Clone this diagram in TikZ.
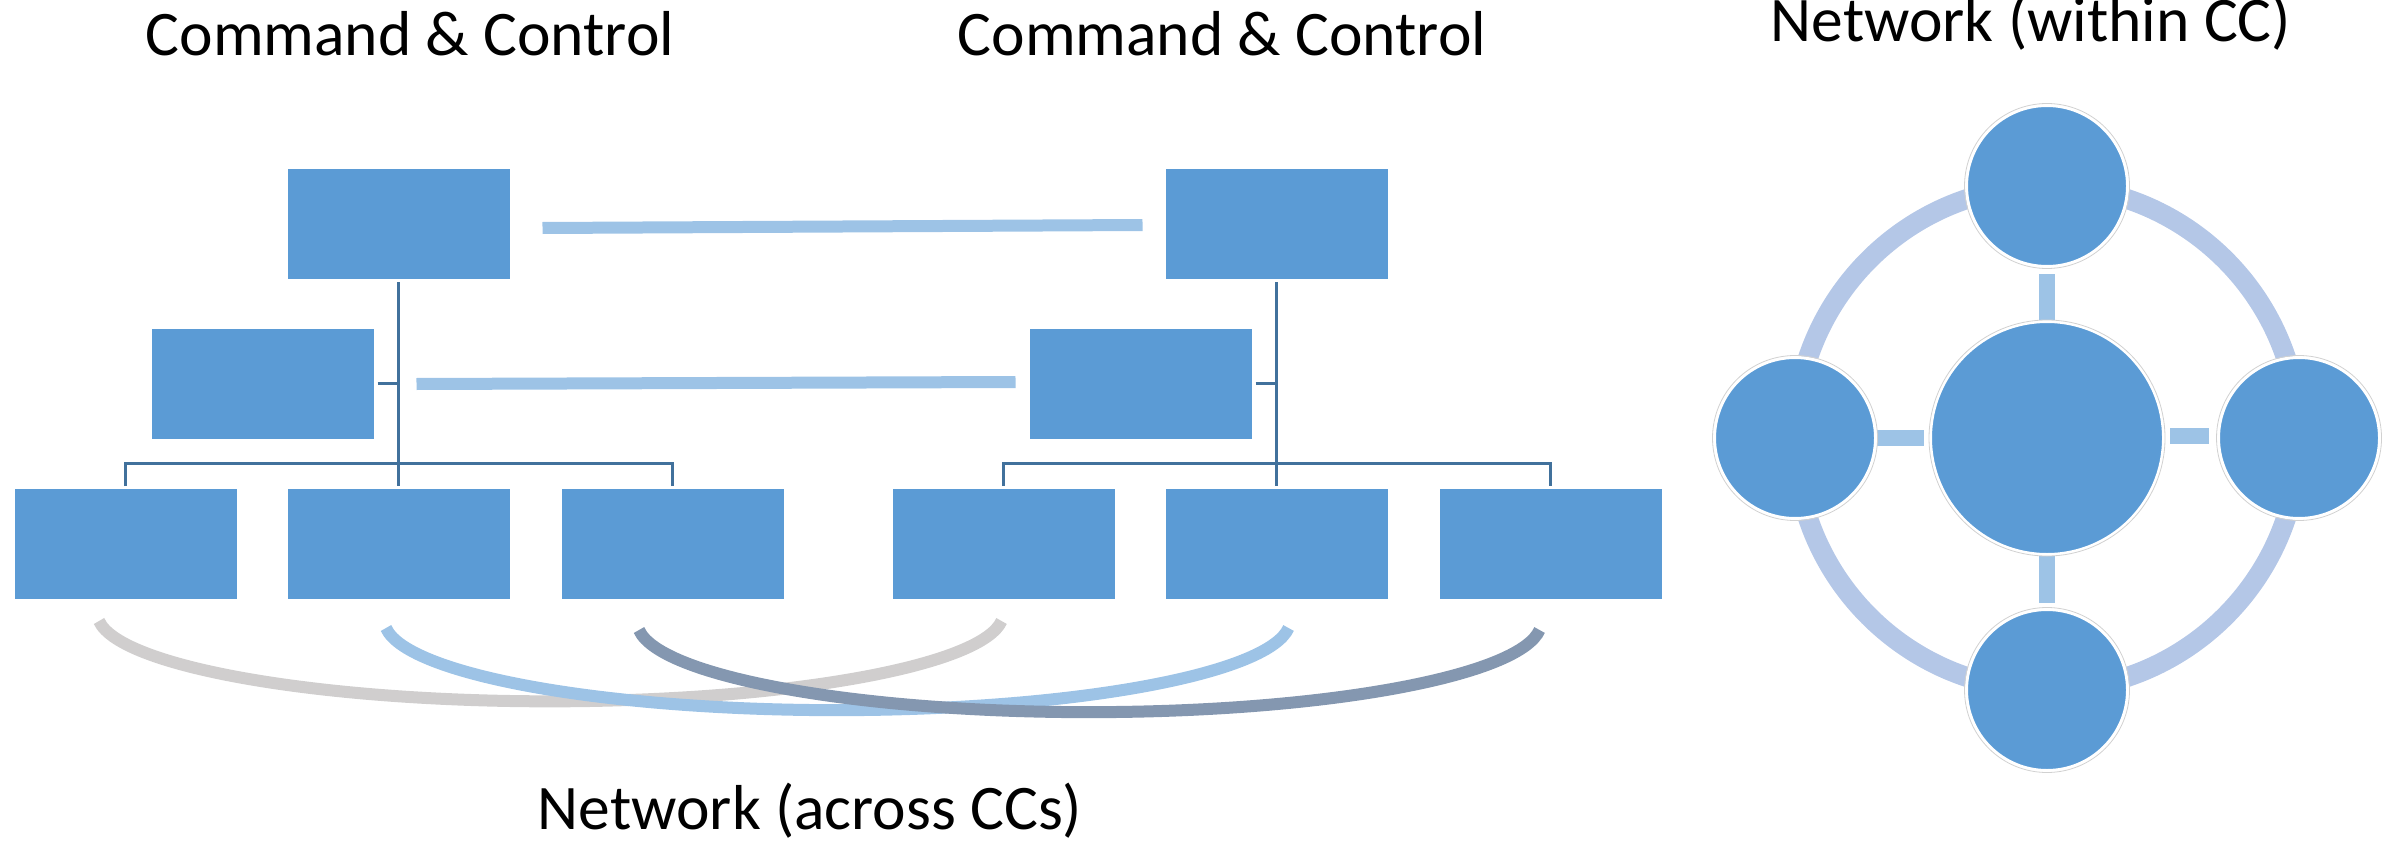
\documentclass[tikz,border=0pt]{standalone}
\usepackage{fontspec}
\setmainfont{Carlito}
\usetikzlibrary{backgrounds}

\definecolor{boxblue}{HTML}{5B9BD5}
\definecolor{treeblue}{HTML}{41719C}
\definecolor{linkblue}{HTML}{9DC3E6}
\definecolor{ringblue}{HTML}{B4C7E7}
\definecolor{arcgrey}{HTML}{D0CECE}
\definecolor{arcslate}{HTML}{8497B0}

\begin{document}
\begin{tikzpicture}[x=1pt,y=-1pt,
  cbox/.style={rectangle, fill=boxblue, draw=white, line width=1pt,
               minimum width=223pt, minimum height=111pt, inner sep=0pt},
  tree/.style={draw=treeblue, line width=3pt},
  link/.style={draw=linkblue, line width=12pt},
  arcline/.style={line width=12pt},
  spoke/.style={draw=linkblue, line width=16pt},
  ringline/.style={draw=ringblue, line width=20pt},
  title/.style={font=\fontsize{63.5}{76}\selectfont, anchor=base, inner sep=0pt},
  sat/.style={circle, fill=boxblue, draw=white, line width=3pt,
              minimum size=161pt, inner sep=0pt},
  hub/.style={circle, fill=boxblue, draw=white, line width=3pt,
              minimum size=233pt, inner sep=0pt},
  halo/.style={draw=black!18, line width=0.8pt}
]
\useasboundingbox (0,0) rectangle (2395,845);

% ---------- titles ----------
\node[title] (t1) at (410,56) {Command \& Control};
\node[title] (t2) at (1222,56) {Command \& Control};
\node[title] (t3) at (2031,42) {Network (within CC)};
\node[title] (t4) at (810,829) {Network (across CCs)};

% ---------- left command hierarchy ----------
\node[cbox] (Ltop) at (398.5,224) {};
\node[cbox] (Lmid) at (262.5,383.5) {};
\node[cbox] (Lb1) at (125.5,544) {};
\node[cbox] (Lb2) at (398.5,544) {};
\node[cbox] (Lb3) at (672.5,544) {};

% ---------- right command hierarchy ----------
\node[cbox] (Rtop) at (1276.5,224) {};
\node[cbox] (Rmid) at (1140.5,383.5) {};
\node[cbox] (Rb1) at (1003.5,544) {};
\node[cbox] (Rb2) at (1276.5,544) {};
\node[cbox] (Rb3) at (1550.5,544) {};

% tree connectors
\foreach \p in {L,R}{
  \draw[tree] ([yshift=-2pt]\p top.south) -- ([yshift=2pt]\p b2.north);
  \draw[tree] ([yshift=2pt]\p b1.north) -- ++(0,-23) -| ([yshift=2pt]\p b3.north);
  \draw[tree] ([xshift=3pt]\p mid.east) -- (\p mid.east -| \p top.south);
}

% links between the two hierarchies
\draw[link] ([xshift=32pt,yshift=-4pt]Ltop.east) -- ([xshift=-22pt,yshift=-1pt]Rtop.west);
\draw[link] ([xshift=42pt,yshift=-0.5pt]Lmid.east) -- ([xshift=-13pt,yshift=1.5pt]Rmid.west);

% ---------- network across the hierarchies ----------
\coordinate (ga) at (99,621);
\coordinate (ba) at (386,628);
\coordinate (sa) at (639,630);
\draw[arcline, arcgrey] (ga) arc[start angle=185, end angle=355, x radius=453pt, y radius=88pt];
\draw[arcline, linkblue] (ba) arc[start angle=185, end angle=355, x radius=453pt, y radius=90pt];
\draw[arcline, arcslate] (sa) arc[start angle=185, end angle=355, x radius=452pt, y radius=90pt];

% ---------- network within one hierarchy ----------
\node[hub] (HUB) at (2047,438) {};
\node[sat] (ST) at (2047,186) {};
\node[sat] (SB) at (2047,690) {};
\node[sat] (SL) at (1795,438) {};
\node[sat] (SR) at (2299,438) {};

\foreach \n/\r in {HUB/118, ST/82.5, SB/82.5, SL/82.5, SR/82.5}{
  \draw[halo] (\n.center) circle[radius=\r pt];
}

\begin{scope}[on background layer]
  \draw[ringline] (HUB.center) circle[radius=252pt];
  \draw[spoke] ([yshift=-6pt]ST.south) -- (HUB.north);
  \draw[spoke] (HUB.south) -- ([yshift=5pt]SB.north);
  \draw[spoke] (SL.east) -- ([xshift=-5pt]HUB.west);
  \draw[spoke] ([xshift=5pt,yshift=2pt]HUB.east) -- ([xshift=-8pt,yshift=2pt]SR.west);
\end{scope}
\end{tikzpicture}
\end{document}
